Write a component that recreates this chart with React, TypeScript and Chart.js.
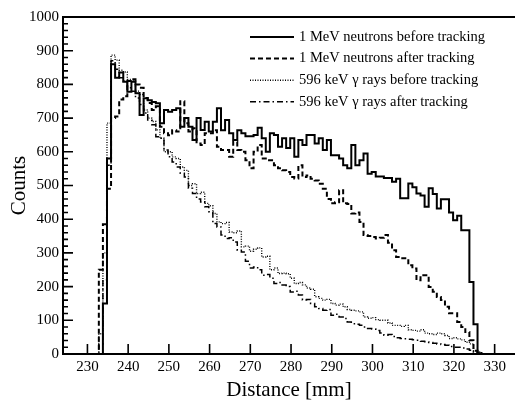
import React, { useEffect, useRef } from "react";
import { Chart, registerables } from "chart.js";

Chart.register(...registerables);

// Histogram bins: left edge of first bin and bin width (mm)
const binStart = 232.8;
const binWidth = 1;

// Counts per bin, bins from 232.8 mm upward (1 mm each)
const neutronsBefore = [
  0, 150, 580, 860, 820, 835, 808, 778, 808, 774,
  709, 759, 753, 748, 744, 685, 724, 719, 724, 729,
  674, 700, 674, 635, 700, 665, 689, 660, 689, 729,
  664, 694, 655, 635, 664, 655, 646, 646, 650, 671,
  640, 600, 655, 650, 615, 640, 611, 640, 585, 635,
  620, 650, 650, 625, 640, 605, 635, 590, 590, 580,
  560, 551, 620, 560, 575, 595, 535, 540, 527, 527,
  522, 522, 511, 520, 462, 462, 506, 495, 476, 470,
  437, 492, 475, 432, 459, 459, 420, 397, 410, 367,
  367, 214, 88, 0,
];

const neutronsAfter = [
  250, 385, 490, 700, 705, 755, 765, 810, 815, 800,
  790, 760, 745, 724, 735, 674, 655, 649, 664, 660,
  750, 685, 660, 670, 625, 620, 655, 655, 664, 615,
  605, 605, 585, 630, 605, 600, 575, 551, 600, 620,
  580, 575, 575, 560, 551, 545, 540, 525, 521, 560,
  525, 530, 520, 515, 505, 490, 460, 447, 450, 486,
  447, 445, 417, 420, 392, 353, 350, 347, 343, 345,
  353, 330, 308, 288, 284, 284, 263, 254, 219, 234,
  234, 199, 185, 169, 160, 140, 121, 121, 95, 80,
  65, 41, 10, 0,
];

const gammaBefore = [
  60, 300, 685, 887, 872, 842, 837, 815, 810, 780,
  770, 724, 700, 690, 665, 640, 600, 600, 585, 580,
  555, 545, 500, 505, 476, 480, 447, 440, 417, 392,
  387, 390, 362, 360, 365, 318, 320, 305, 311, 315,
  288, 290, 250, 255, 239, 240, 238, 225, 209, 212,
  205, 196, 192, 170, 165, 160, 162, 150, 145, 148,
  140, 132, 130, 128, 125, 110, 106, 108, 102, 100,
  100, 92, 85, 85, 82, 85, 72, 70, 68, 72,
  62, 60, 58, 62, 60, 55, 46, 48, 45, 42,
  35, 30, 10, 6,
];

const gammaAfter = [
  30, 220, 560, 870, 845, 820, 810, 790, 780, 760,
  740, 715, 694, 680, 645, 640, 605, 585, 570, 555,
  536, 525, 492, 476, 460, 451, 437, 422, 387, 377,
  353, 343, 345, 332, 308, 303, 275, 255, 258, 250,
  234, 236, 225, 209, 212, 205, 200, 184, 186, 175,
  160, 162, 150, 140, 135, 130, 132, 115, 118, 110,
  105, 95, 90, 88, 85, 80, 76, 74, 70, 62,
  56, 58, 52, 48, 46, 45, 44, 42, 41, 38,
  36, 34, 32, 30, 28, 26, 22, 20, 20, 18,
  15, 11, 5, 3,
];

const seriesLabels = [
  "1 MeV neutrons before tracking",
  "1 MeV neutrons after tracking",
  "596 keV \u03b3 rays before tracking",
  "596 keV \u03b3 rays after tracking",
];

const xTicks = [230, 240, 250, 260, 270, 280, 290, 300, 310, 320, 330];
const yTicks = [0, 100, 200, 300, 400, 500, 600, 700, 800, 900, 1000];
const yMinorTicks = [
  20, 40, 60, 80, 120, 140, 160, 180, 220, 240, 260, 280, 320, 340, 360, 380,
  420, 440, 460, 480, 520, 540, 560, 580, 620, 640, 660, 680, 720, 740, 760, 780,
  820, 840, 860, 880, 920, 940, 960, 980,
];

const xMin = 224;
const xMax = 335;
const yMin = 0;
const yMax = 1000;

const FONT = "'Liberation Serif', 'DejaVu Serif', serif";

function toSteps(values: number[]) {
  const pts: { x: number; y: number }[] = [{ x: xMin, y: 0 }];
  values.forEach((v, i) => pts.push({ x: binStart + i * binWidth, y: v }));
  pts.push({ x: binStart + values.length * binWidth, y: 0 });
  pts.push({ x: xMax, y: 0 });
  return pts;
}

const rootFramePlugin = {
  id: "rootFrame",
  afterDraw(chart: any) {
    const { ctx, chartArea, scales } = chart;
    const { left, right, top, bottom } = chartArea;
    const xs = scales.x;
    const ys = scales.y;
    ctx.save();
    ctx.strokeStyle = "#000";
    ctx.setLineDash([]);
    // top frame line
    ctx.lineWidth = 2;
    ctx.beginPath();
    ctx.moveTo(left - 1, top);
    ctx.lineTo(right, top);
    ctx.stroke();
    // inward ticks
    ctx.lineWidth = 1.6;
    ctx.beginPath();
    xTicks.forEach((v) => {
      const px = xs.getPixelForValue(v);
      ctx.moveTo(px, bottom);
      ctx.lineTo(px, bottom - 10);
    });
    yTicks.forEach((v) => {
      const py = ys.getPixelForValue(v);
      ctx.moveTo(left, py);
      ctx.lineTo(left + 10, py);
    });
    yMinorTicks.forEach((v) => {
      const py = ys.getPixelForValue(v);
      ctx.moveTo(left, py);
      ctx.lineTo(left + 5, py);
    });
    ctx.stroke();

    // legend
    ctx.font = `14.5px ${FONT}`;
    ctx.textBaseline = "middle";
    ctx.textAlign = "left";
    ctx.fillStyle = "#000";
    chart.data.datasets.forEach((ds: any, i: number) => {
      const y = 37 + i * 21.6;
      ctx.beginPath();
      ctx.setLineDash(ds.borderDash || []);
      ctx.lineWidth = ds.borderWidth;
      ctx.moveTo(250, y);
      ctx.lineTo(294, y);
      ctx.stroke();
      ctx.setLineDash([]);
      ctx.fillText(ds.label, 299, y);
    });
    ctx.restore();
  },
};

export default function App() {
  const canvasRef = useRef<HTMLCanvasElement | null>(null);

  useEffect(() => {
    const canvas = canvasRef.current;
    if (!canvas) return;
    const styles = [
      { data: neutronsBefore, dash: [] as number[], width: 2 },
      { data: neutronsAfter, dash: [5, 3], width: 2 },
      { data: gammaBefore, dash: [1, 1.5], width: 1.4 },
      { data: gammaAfter, dash: [6, 3, 1.5, 3], width: 1.5 },
    ];
    const chart = new Chart(canvas, {
      type: "line",
      data: {
        datasets: styles.map((s, i) => ({
          label: seriesLabels[i],
          data: toSteps(s.data),
          borderColor: "#000",
          backgroundColor: "#000",
          borderWidth: s.width,
          borderDash: s.dash,
          pointRadius: 0,
          pointHoverRadius: 0,
          stepped: true,
          fill: false,
          tension: 0,
        })),
      },
      options: {
        animation: false,
        responsive: false,
        maintainAspectRatio: false,
        events: [],
        layout: { padding: { left: 0, right: 0, top: 17, bottom: 0 } },
        plugins: {
          legend: { display: false },
          tooltip: { enabled: false },
        },
        scales: {
          x: {
            type: "linear",
            min: xMin,
            max: xMax,
            afterBuildTicks: (s: any) => {
              s.ticks = xTicks.map((v) => ({ value: v }));
            },
            afterFit: (s: any) => {
              s.height = 50;
            },
            grid: { display: false, drawTicks: false },
            border: { display: true, color: "#000", width: 2 },
            ticks: {
              color: "#000",
              font: { family: FONT, size: 15 },
              padding: 4,
              maxRotation: 0,
              autoSkip: false,
              callback: (v: any) => String(v),
            },
            title: {
              display: true,
              text: "Distance [mm]",
              color: "#000",
              font: { family: FONT, size: 21 },
              padding: { top: 0, bottom: 1 },
            },
          },
          y: {
            type: "linear",
            min: yMin,
            max: yMax,
            afterBuildTicks: (s: any) => {
              s.ticks = yTicks.map((v) => ({ value: v }));
            },
            afterFit: (s: any) => {
              s.width = 63;
            },
            grid: { display: false, drawTicks: false },
            border: { display: true, color: "#000", width: 2 },
            ticks: {
              color: "#000",
              font: { family: FONT, size: 15 },
              padding: 4,
              autoSkip: false,
              callback: (v: any) => String(v),
            },
            title: {
              display: true,
              text: "Counts",
              color: "#000",
              font: { family: FONT, size: 21 },
              padding: { top: 7, bottom: 0 },
            },
          },
        },
      },
      plugins: [rootFramePlugin],
    } as any);
    return () => chart.destroy();
  }, []);

  return (
    <div
      style={{
        position: "absolute",
        left: 0,
        top: 0,
        width: 515,
        height: 404,
        background: "#fff",
      }}
    >
      <canvas ref={canvasRef} width={515} height={404} style={{ width: 515, height: 404 }} />
    </div>
  );
}
